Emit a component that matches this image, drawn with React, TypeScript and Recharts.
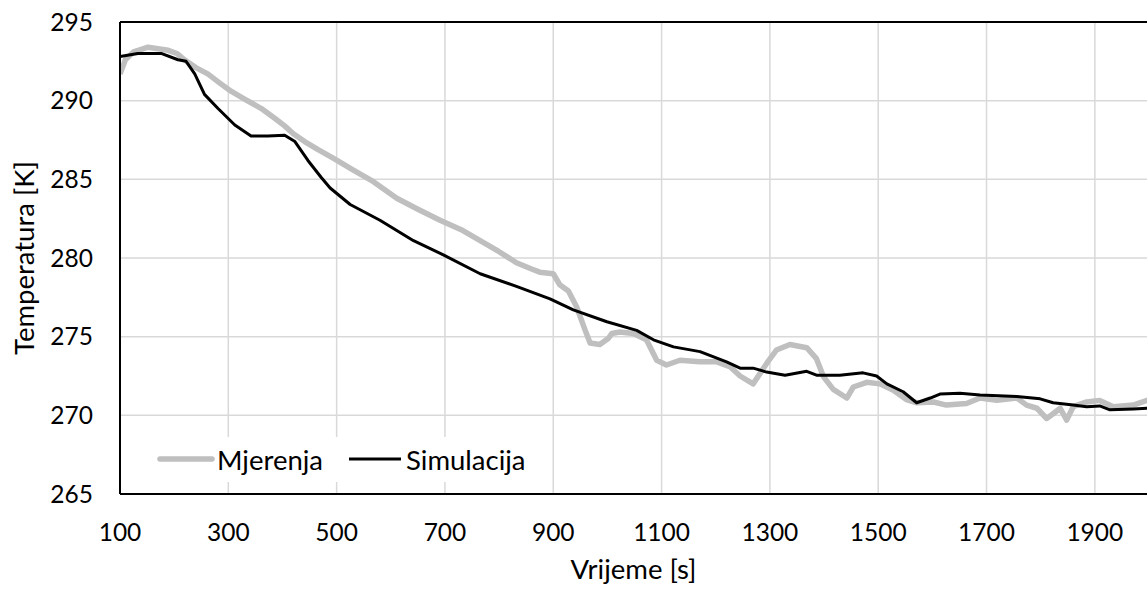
import React from 'react';
import { LineChart, Line, XAxis, YAxis, CartesianGrid, ReferenceLine, Legend, Label } from 'recharts';

const measTime = [100, 110, 125, 152, 170, 189, 205, 219, 240, 262, 285, 305, 330, 361, 385, 404, 420, 441, 465, 496, 530, 568, 611, 650, 691, 730, 765, 800, 832, 860, 875, 900, 912, 928, 943, 959, 968, 986, 1002, 1008, 1023, 1048, 1072, 1091, 1109, 1134, 1171, 1202, 1226, 1245, 1269, 1294, 1312, 1337, 1368, 1386, 1399, 1417, 1442, 1454, 1479, 1503, 1528, 1552, 1571, 1602, 1626, 1663, 1688, 1719, 1756, 1774, 1793, 1811, 1823, 1836, 1848, 1860, 1885, 1909, 1934, 1971, 2000];
const measTemp = [291.7, 292.6, 293.1, 293.4, 293.3, 293.2, 293.0, 292.6, 292.1, 291.7, 291.1, 290.6, 290.1, 289.5, 288.9, 288.4, 287.9, 287.4, 286.9, 286.3, 285.6, 284.85, 283.8, 283.1, 282.4, 281.8, 281.1, 280.4, 279.7, 279.3, 279.1, 279.0, 278.3, 277.9, 276.9, 275.4, 274.6, 274.5, 274.9, 275.2, 275.3, 275.2, 274.8, 273.5, 273.2, 273.5, 273.4, 273.4, 273.1, 272.5, 272.0, 273.3, 274.15, 274.5, 274.3, 273.6, 272.45, 271.65, 271.1, 271.8, 272.1, 272.0, 271.6, 271.0, 270.8, 270.85, 270.65, 270.75, 271.1, 270.95, 271.1, 270.65, 270.45, 269.8, 270.1, 270.45, 269.7, 270.55, 270.85, 270.95, 270.55, 270.65, 271.0];

const simTime = [100, 133, 176, 207, 222, 238, 256, 281, 312, 342, 373, 404, 423, 447, 472, 488, 525, 580, 642, 697, 765, 832, 894, 937, 999, 1054, 1085, 1122, 1171, 1220, 1245, 1269, 1294, 1328, 1368, 1386, 1429, 1472, 1497, 1516, 1546, 1571, 1596, 1614, 1651, 1688, 1756, 1799, 1823, 1860, 1885, 1909, 1928, 1971, 2000];
const simTemp = [292.8, 293.0, 293.0, 292.6, 292.5, 291.7, 290.4, 289.5, 288.45, 287.75, 287.75, 287.8, 287.4, 286.2, 285.1, 284.45, 283.4, 282.4, 281.1, 280.2, 279.0, 278.2, 277.4, 276.7, 275.95, 275.4, 274.8, 274.35, 274.05, 273.4, 273.0, 273.0, 272.75, 272.55, 272.8, 272.55, 272.55, 272.7, 272.5, 272.0, 271.5, 270.8, 271.1, 271.35, 271.4, 271.3, 271.2, 271.05, 270.8, 270.65, 270.55, 270.6, 270.35, 270.4, 270.45];

const xTicks = [100, 300, 500, 700, 900, 1100, 1300, 1500, 1700, 1900];
const yTicks = [265, 270, 275, 280, 285, 290, 295];

const seriesNames = ['Mjerenja', 'Simulacija'];
const xTitle = 'Vrijeme [s]';
const yTitle = 'Temperatura [K]';

const measData = measTime.map((t, i) => ({ t, v: measTemp[i] }));
const simData = simTime.map((t, i) => ({ t, v: simTemp[i] }));

const FONT = 'Lato, "Open Sans", sans-serif';
const TEXT_SIZE = 27.5;
const TICK_SIZE = 24.5;

const LegendBox = () => (
  <div style={{ position: 'relative', width: 392, height: 45, background: '#fff' }}>
    <svg width={392} height={45} style={{ position: 'absolute', left: 0, top: 0 }}>
      <line x1={14} y1={22} x2={66} y2={22} stroke="#bfbfbf" strokeWidth={5.5} strokeLinecap="round" />
      <line x1={203} y1={22} x2={255} y2={22} stroke="#000" strokeWidth={3} />
      <text x={71} y={22} dominantBaseline="central" fontFamily={FONT} fontSize={TEXT_SIZE} fill="#000">{seriesNames[0]}</text>
      <text x={260} y={22} dominantBaseline="central" fontFamily={FONT} fontSize={TEXT_SIZE} fill="#000">{seriesNames[1]}</text>
    </svg>
  </div>
);

export default function App() {
  return (
    <div style={{ position: 'fixed', left: 0, top: 0, width: 1147, height: 592, overflow: 'hidden', background: '#fff' }}>
      <LineChart width={1155} height={592} margin={{ top: 22, right: 6, bottom: 0, left: 0 }}>
        <CartesianGrid stroke="#d9d9d9" strokeWidth={1.5} />
        <XAxis
          dataKey="t"
          type="number"
          domain={[100, 2000]}
          ticks={xTicks}
          allowDataOverflow
          height={98}
          tickSize={0}
          tickMargin={30}
          axisLine={{ stroke: '#000', strokeWidth: 2 }}
          tickLine={false}
          tick={{ fill: '#000', fontSize: TICK_SIZE, fontFamily: FONT }}
        >
          <Label
            content={(props: any) => {
              const vb = props.viewBox;
              return (
                <text x={vb.x + (1147 - vb.x) / 2} y={vb.y + 74} textAnchor="middle" dominantBaseline="central" fontFamily={FONT} fontSize={TEXT_SIZE} fill="#000">
                  {xTitle}
                </text>
              );
            }}
          />
        </XAxis>
        <YAxis
          type="number"
          domain={[265, 295]}
          ticks={yTicks}
          width={120}
          tickSize={0}
          tickMargin={27}
          axisLine={{ stroke: '#000', strokeWidth: 2 }}
          tickLine={false}
          tick={{ fill: '#000', fontSize: TICK_SIZE, fontFamily: FONT }}
        >
          <Label
            content={(props: any) => {
              const vb = props.viewBox;
              const cx = vb.x + 23;
              const cy = vb.y + vb.height / 2;
              return (
                <text x={cx} y={cy} textAnchor="middle" dominantBaseline="central" transform={`rotate(-90 ${cx} ${cy})`} fontFamily={FONT} fontSize={TEXT_SIZE} fill="#000">
                  {yTitle}
                </text>
              );
            }}
          />
        </YAxis>
        <ReferenceLine y={295} stroke="#000" strokeWidth={2} />
        <Legend
          layout="horizontal"
          verticalAlign="middle"
          align="center"
          wrapperStyle={{ left: 146, top: 437, width: 392, height: 45 }}
          content={() => <LegendBox />}
        />
        <Line data={measData} dataKey="v" name={seriesNames[0]} type="linear" stroke="#bfbfbf" strokeWidth={5.5} dot={false} strokeLinejoin="round" isAnimationActive={false} />
        <Line data={simData} dataKey="v" name={seriesNames[1]} type="linear" stroke="#000" strokeWidth={3} dot={false} strokeLinejoin="round" isAnimationActive={false} />
      </LineChart>
    </div>
  );
}
